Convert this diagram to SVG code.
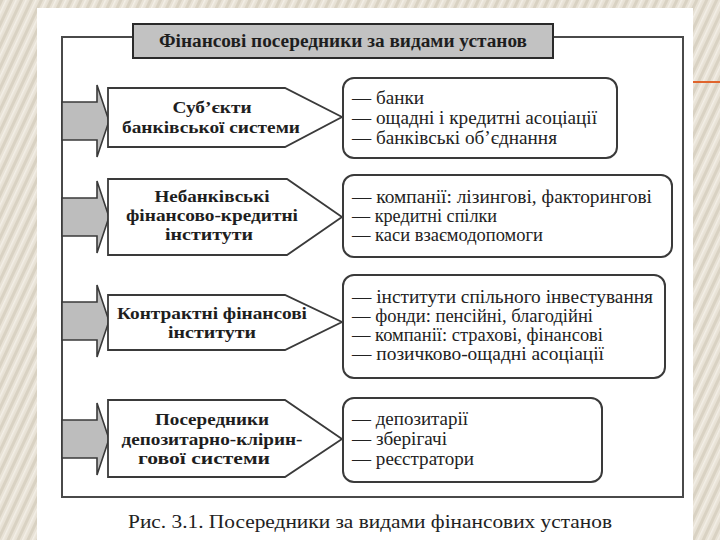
<svg xmlns="http://www.w3.org/2000/svg" width="720" height="540" viewBox="0 0 720 540">
<style>
.frame{fill:#ffffff;stroke:#4a4a4a;stroke-width:2}
.title{fill:#c2c2c2;stroke:#2a2a2a;stroke-width:2}
.ttl{font-family:"Liberation Serif",serif;font-weight:bold;font-size:18px;fill:#1e1e1e}
.pent{fill:#ffffff;stroke:#3a3a3a;stroke-width:1.8}
.box{fill:#ffffff;stroke:#3a3a3a;stroke-width:2}
.arrow{fill:#bdbdbd;stroke:#3a3a3a;stroke-width:1.6}
.lbl{font-family:"Liberation Serif",serif;font-weight:bold;font-size:17px;fill:#1e1e1e;text-anchor:middle}
.item{font-family:"Liberation Serif",serif;font-size:18px;fill:#222}
.cap{font-family:"Liberation Serif",serif;font-size:19px;fill:#222;text-anchor:middle}
</style>
<defs>
<pattern id="stripes" patternUnits="userSpaceOnUse" width="9" height="9" patternTransform="rotate(25)">
<rect width="9" height="9" fill="#e8e2d6"/>
<rect width="3" height="9" fill="#d9d2c3"/>
<rect x="5" width="1.5" height="9" fill="#f3efe7"/>
</pattern>
</defs>
<rect x="0" y="0" width="720" height="540" fill="url(#stripes)"/>
<rect x="37" y="8" width="656" height="532" fill="#ffffff"/>
<line x1="693" y1="82" x2="720" y2="82" stroke="#e0642c" stroke-width="2"/>

<g id="frame">
<rect class="frame" x="62" y="37" width="621" height="460"/>
</g>
<g id="title">
<rect class="title" x="133" y="24" width="420" height="34"/>
<text class="ttl" x="343" y="47" text-anchor="middle" textLength="368" lengthAdjust="spacingAndGlyphs">Фінансові посередники за видами установ</text>
</g>

<g id="connectors">
<polygon class="arrow" points="62,102 97,102 97,85 109,121 97,157 97,140 62,140"/>
<polygon class="arrow" points="62,198 97,198 97,181 109,217 97,253 97,236 62,236"/>
<polygon class="arrow" points="62,302 97,302 97,285 109,321 97,357 97,340 62,340"/>
<polygon class="arrow" points="62,420 97,420 97,403 109,439 97,475 97,458 62,458"/>
</g>

<g id="node1">
<polygon class="pent" points="108,88 285,88 342,117 285,147 108,147"/>
<text class="lbl" x="212" y="113" textLength="79" lengthAdjust="spacingAndGlyphs">Суб’єкти</text>
<text class="lbl" x="211" y="133" textLength="178" lengthAdjust="spacingAndGlyphs">банківської системи</text>
</g>
<g id="list1">
<rect class="box" x="343" y="78" width="274" height="80" rx="11"/>
<text class="item" x="352" y="104" textLength="72" lengthAdjust="spacingAndGlyphs">— банки</text>
<text class="item" x="352" y="124" textLength="245" lengthAdjust="spacingAndGlyphs">— ощадні і кредитні асоціації</text>
<text class="item" x="352" y="144" textLength="205" lengthAdjust="spacingAndGlyphs">— банківські об’єднання</text>
</g>

<g id="node2">
<polygon class="pent" points="108,179 287,179 342,217 287,255 108,255"/>
<text class="lbl" x="212" y="202" textLength="115" lengthAdjust="spacingAndGlyphs">Небанківські</text>
<text class="lbl" x="212" y="221" textLength="172" lengthAdjust="spacingAndGlyphs">фінансово-кредитні</text>
<text class="lbl" x="209" y="240" textLength="88" lengthAdjust="spacingAndGlyphs">інститути</text>
</g>
<g id="list2">
<rect class="box" x="343" y="175" width="329" height="82" rx="11"/>
<text class="item" x="352" y="203" textLength="300" lengthAdjust="spacingAndGlyphs">— компанії: лізингові, факторингові</text>
<text class="item" x="352" y="222" textLength="145" lengthAdjust="spacingAndGlyphs">— кредитні спілки</text>
<text class="item" x="352" y="241" textLength="191" lengthAdjust="spacingAndGlyphs">— каси взаємодопомоги</text>
</g>

<g id="node3">
<polygon class="pent" points="108,295 285,295 342,322 285,350 108,350"/>
<text class="lbl" x="212" y="319" textLength="190" lengthAdjust="spacingAndGlyphs">Контрактні фінансові</text>
<text class="lbl" x="212" y="338" textLength="88" lengthAdjust="spacingAndGlyphs">інститути</text>
</g>
<g id="list3">
<rect class="box" x="343" y="275" width="322" height="103" rx="11"/>
<text class="item" x="352" y="303" textLength="301" lengthAdjust="spacingAndGlyphs">— інститути спільного інвестування</text>
<text class="item" x="352" y="322" textLength="241" lengthAdjust="spacingAndGlyphs">— фонди: пенсійні, благодійні</text>
<text class="item" x="352" y="341" textLength="251" lengthAdjust="spacingAndGlyphs">— компанії: страхові, фінансові</text>
<text class="item" x="352" y="360" textLength="252" lengthAdjust="spacingAndGlyphs">— позичково-ощадні асоціації</text>
</g>

<g id="node4">
<polygon class="pent" points="108,400 285,400 342,439 285,477 108,477"/>
<text class="lbl" x="212" y="425" textLength="114" lengthAdjust="spacingAndGlyphs">Посередники</text>
<text class="lbl" x="212" y="444.5" textLength="181" lengthAdjust="spacingAndGlyphs">депозитарно-клірин-</text>
<text class="lbl" x="204" y="464" textLength="132" lengthAdjust="spacingAndGlyphs">гової системи</text>
</g>
<g id="list4">
<rect class="box" x="343" y="398" width="259" height="84" rx="11"/>
<text class="item" x="352" y="425" textLength="116" lengthAdjust="spacingAndGlyphs">— депозитарії</text>
<text class="item" x="352" y="445" textLength="95" lengthAdjust="spacingAndGlyphs">— зберігачі</text>
<text class="item" x="352" y="465" textLength="122" lengthAdjust="spacingAndGlyphs">— реєстратори</text>
</g>

<text class="cap" x="370" y="528" textLength="484" lengthAdjust="spacingAndGlyphs">Рис. 3.1. Посередники за видами фінансових установ</text>
</svg>
